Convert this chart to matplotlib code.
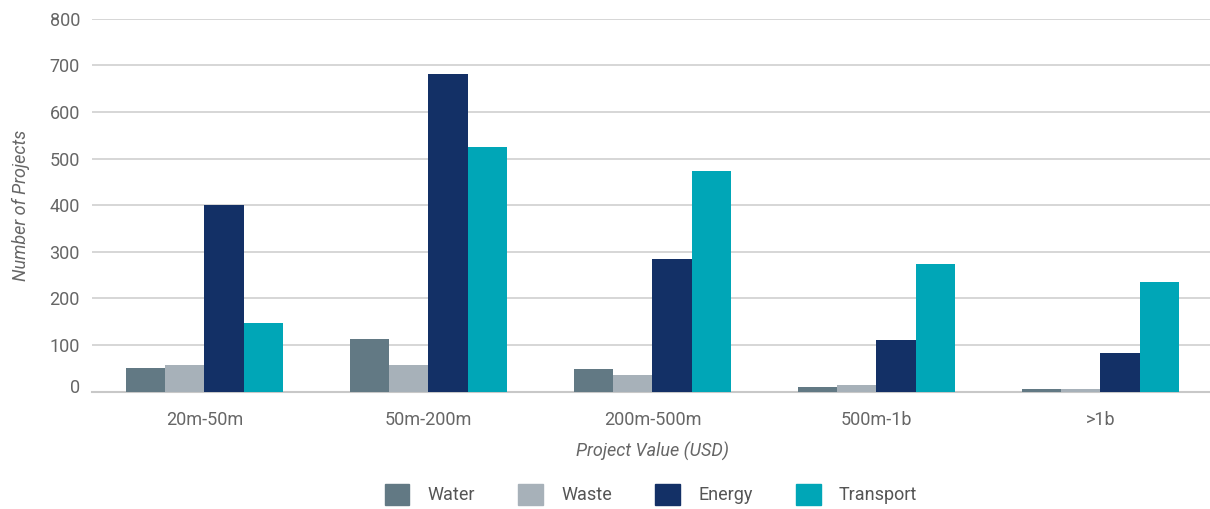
import numpy as np
import matplotlib.pyplot as plt
import matplotlib.transforms as mtransforms
from matplotlib.patches import Patch

plt.rcParams['font.family'] = ['Roboto', 'DejaVu Sans']

categories = ['20m-50m', '50m-200m', '200m-500m', '500m-1b', '>1b']
water = [51, 113, 49, 10, 6]
waste = [57, 57, 36, 14, 5]
energy = [400, 682, 285, 111, 83]
transport = [147, 525, 473, 274, 235]

series = ['Water', 'Waste', 'Energy', 'Transport']
colors = ['#627984', '#a7b1b9', '#133066', '#00a6b7']
values = [water, waste, energy, transport]

fig = plt.figure(figsize=(12.1, 5.09), dpi=100)
ax = fig.add_axes([0.0764, 0.2305, 0.9256, 0.7328])

x = np.arange(len(categories))
w = 0.175
for i, (vals, c) in enumerate(zip(values, colors)):
    ax.bar(x + (i - 1.5) * w, vals, w, color=c, zorder=3)

ax.set_xlim(-0.5, len(categories) - 0.5)
ax.set_ylim(0, 800)
ax.set_yticks(range(0, 801, 100))
ax.grid(axis='y', color='#d0d0d0', linewidth=1.2, zorder=0)
for s in ['top', 'right', 'left']:
    ax.spines[s].set_visible(False)
ax.spines['bottom'].set_color('#c8c8c8')
ax.spines['bottom'].set_linewidth(1.5)
ax.tick_params(length=0, labelsize=13, labelcolor='#666666')
ax.tick_params(axis='y', pad=9)
ax.tick_params(axis='x', pad=14)
ax.set_xticks(x)
ax.set_xticklabels(categories)

# the "0" label sits a little above the baseline in the original
fig.canvas.draw()
zero = ax.get_yticklabels()[0]
zero.set_transform(zero.get_transform() +
                   mtransforms.ScaledTranslation(0, 6 / 100, fig.dpi_scale_trans))

ax.set_ylabel('Number of Projects', fontsize=13, style='italic', color='#666666',
              labelpad=14)
ax.set_xlabel('Project Value (USD)', fontsize=13, style='italic', color='#666666',
              labelpad=9)

handles = [Patch(color=c, label=s) for s, c in zip(series, colors)]
fig.legend(handles=handles, loc='center', bbox_to_anchor=(0.538, 0.029), ncol=4,
           frameon=False, handlelength=1.38, handleheight=1.38,
           columnspacing=2.4, handletextpad=1.0, labelcolor='#555555',
           prop={'size': 13})

fig.savefig('out.png', dpi=100)
